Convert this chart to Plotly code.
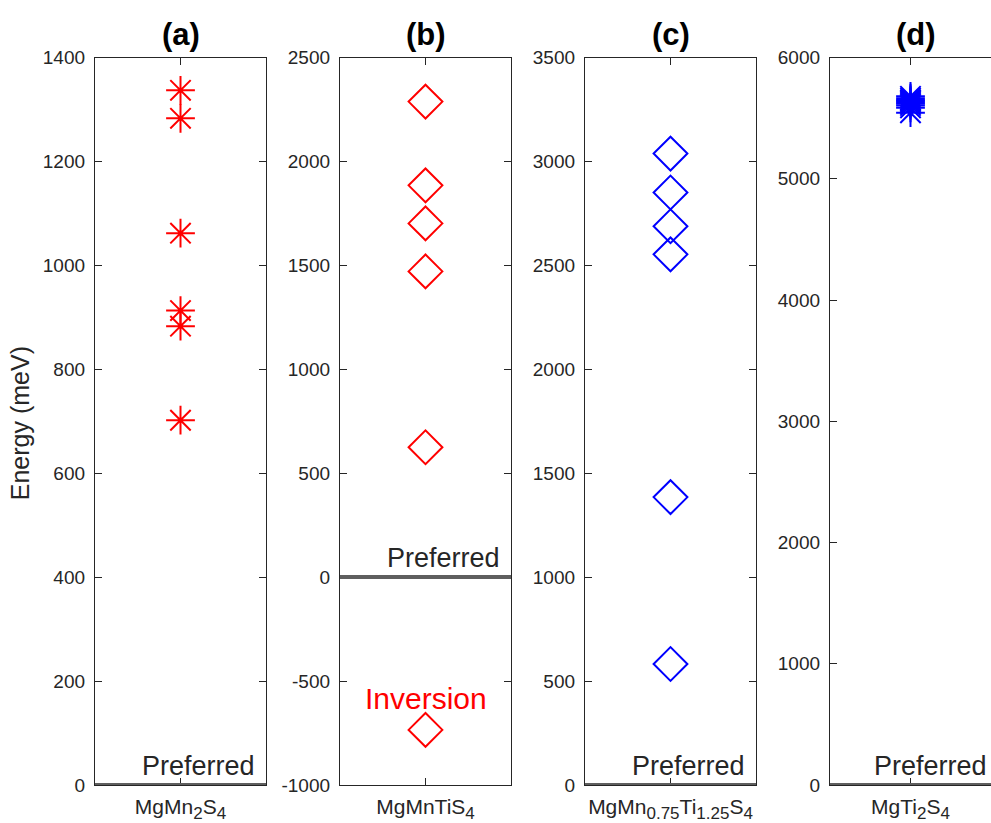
import plotly.graph_objects as go

W, H = 991, 823

# ---- data ----
panel_titles = ["(a)", "(b)", "(c)", "(d)"]
SUB = '<sub><span style="font-size:17px">{}</span></sub>'
compounds = ["MgMn" + SUB.format("2") + "S" + SUB.format("4"),
             "MgMnTiS" + SUB.format("4"),
             "MgMn" + SUB.format("0.75") + "Ti" + SUB.format("1.25") + "S" + SUB.format("4"),
             "MgTi" + SUB.format("2") + "S" + SUB.format("4")]
a_vals = [1337, 1283, 1062, 913, 883, 702]
b_vals = [2288, 1885, 1702, 1471, 625, -735]
c_vals = [3038, 2851, 2688, 2553, 1385, 582]
d_vals = [5680, 5665, 5650, 5640, 5630, 5620, 5605, 5585, 5545]
y_ranges = [[0, 1400], [-1000, 2500], [0, 3500], [0, 6000]]
y_ticks = [list(range(0, 1401, 200)), list(range(-1000, 2501, 500)),
           list(range(0, 3501, 500)), list(range(0, 6001, 1000))]
series = [a_vals, b_vals, c_vals, d_vals]
colors = ["#ff0000", "#ff0000", "#0000ff", "#0000ff"]
symbols = ["asterisk-open", "diamond-open", "diamond-open", "asterisk-open"]
inversion_value = -582


# vertical pixel (from top) -> paper fraction (empirical correction of rendering offset)
def py(pix):
    intended = (pix - 9.4) / 0.9753
    return 1 - intended / H


# ---- layout geometry (pixels) ----
xdom_px = [(95, 266), (340, 511), (585, 756), (830, 991)]
y0 = py(785)
y1 = py(57)

axcol = "#262626"
font_family = "Liberation Sans, Arial, sans-serif"

fig = go.Figure()
annotations = []
shapes = []

for i in range(4):
    sfx = "" if i == 0 else str(i + 1)
    xa, ya = "x" + sfx, "y" + sfx
    vals = series[i]
    fig.add_trace(go.Scatter(
        x=[1] * len(vals), y=vals, mode="markers", xaxis=xa, yaxis=ya,
        marker=dict(symbol=symbols[i], size=24 if "asterisk" in symbols[i] else 26,
                    color=colors[i], line=dict(color=colors[i], width=2)),
        showlegend=False, hoverinfo="y"))
    x0p, x1p = xdom_px[i]
    last = (i == 3)
    fig.layout["xaxis" + sfx] = dict(
        domain=[x0p / W, x1p / W], range=[0.5, 1.5], anchor=ya,
        tickvals=[1], ticktext=[compounds[i]], ticks="inside", ticklen=7,
        tickcolor=axcol, tickwidth=1, showline=True, linecolor=axcol, linewidth=1.3,
        mirror="ticks", showgrid=False, zeroline=False, fixedrange=True,
        tickfont=dict(size=21, color=axcol, family=font_family), ticklabelstandoff=3)
    fig.layout["yaxis" + sfx] = dict(
        domain=[y0, y1], range=y_ranges[i], anchor=xa,
        tickvals=y_ticks[i], ticktext=[str(v) for v in y_ticks[i]],
        ticks="inside", ticklen=7, tickcolor=axcol, tickwidth=1,
        showline=True, linecolor=axcol, linewidth=1.3,
        mirror=False if last else "ticks", showgrid=False, zeroline=False,
        tickfont=dict(size=19, color=axcol, family=font_family), ticklabelstandoff=5)

    # thick "preferred" line at 0
    shapes.append(dict(type="line", xref=xa + " domain", yref=ya, x0=0, x1=1, y0=0, y1=0,
                       line=dict(color="#5f5f5f", width=4), layer="above"))
    annotations.append(dict(text="Preferred", xref=xa + " domain", yref=ya,
                            x=0.99 if last else 0.945, y=0, xanchor="right", yanchor="bottom",
                            yshift=2, showarrow=False,
                            font=dict(size=27, color=axcol, family=font_family)))
    annotations.append(dict(text="<b>" + panel_titles[i] + "</b>", xref="paper", yref="paper",
                            x=(x0p + (x0p + 171)) / 2 / W, y=py(34),
                            xanchor="center", yanchor="middle", showarrow=False,
                            font=dict(size=31, color="#000000", family=font_family)))

annotations.append(dict(text="Inversion", xref="x2", yref="y2", x=1, y=inversion_value,
                        xanchor="center", yanchor="middle", showarrow=False,
                        font=dict(size=30, color="#ff0000", family=font_family)))
annotations.append(dict(text="Energy (meV)", xref="paper", yref="paper",
                        x=20 / W, y=py(423), textangle=-90,
                        xanchor="center", yanchor="middle", showarrow=False,
                        font=dict(size=25, color=axcol, family=font_family)))

fig.update_layout(width=W, height=H, margin=dict(l=0, r=0, t=0, b=0),
                  paper_bgcolor="white", plot_bgcolor="white",
                  annotations=annotations, shapes=shapes)

fig.write_html("out.html")
